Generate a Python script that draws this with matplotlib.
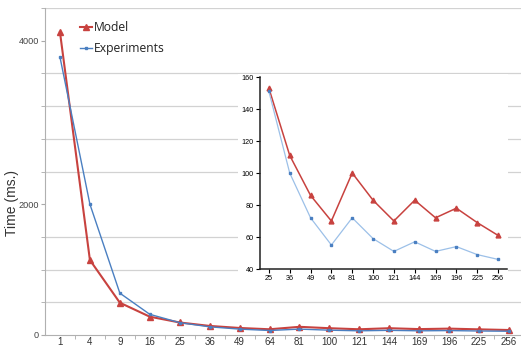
import matplotlib
matplotlib.use("Agg")
import matplotlib.pyplot as plt
from matplotlib.patches import Rectangle
import numpy as np

# block sizes (x categories)
sizes = [1, 4, 9, 16, 25, 36, 49, 64, 81, 100, 121, 144, 169, 196, 225, 256]
model_ms = [3705, 917, 395, 224, 153, 111, 86, 70, 100, 83, 70, 83, 72, 78, 69, 61]
exp_ms = [3400, 1600, 512, 253, 151, 100, 72, 55, 72, 59, 51, 57, 51, 54, 49, 46]

# the picture labels its y axis oddly: "2000" and "4000" sit on these lines
ytick_pos = [0, 1600, 3600]
ytick_txt = ["0", "2000", "4000"]

inset_from = 4  # zoomed view starts at 25

red = "#c8423f"
blue = "#4a7fc1"
light_blue = "#9cc0e8"
grid_c = "#d2d2d2"

plt.rcParams["font.family"] = ["Liberation Sans", "DejaVu Sans"]

fig = plt.figure(figsize=(5.21, 3.48), dpi=100)

# --- main chart ---
ax = fig.add_axes([45 / 521, 1 - 335 / 348, 479 / 521, 327 / 348])
xs = np.arange(len(sizes))
ax.plot(xs, model_ms, color=red, lw=1.5, marker="^", ms=4.5, label="Model", zorder=3)
ax.plot(xs, exp_ms, color=blue, lw=1.0, marker="s", ms=1.8, label="Experiments", zorder=4)

ax.set_xlim(-0.5, len(sizes) - 0.5)
ax.set_ylim(0, 4000)
ax.set_xticks(xs)
ax.set_xticklabels([str(s) for s in sizes], fontsize=7, color="#333333")
ax.set_xticks(xs[:-1] + 0.5, minor=True)
ax.set_yticks(ytick_pos)
ax.set_yticklabels(ytick_txt, fontsize=6.6, color="#444444")
ax.set_yticks(np.arange(0, 4001, 400), minor=True)
ax.tick_params(axis="x", which="major", length=0, pad=1.5)
ax.tick_params(axis="x", which="minor", length=3, color="#aaaaaa", direction="out")
ax.tick_params(axis="y", which="both", length=3, color="#aaaaaa", direction="out", pad=1.5)
ax.grid(True, which="minor", axis="y", color=grid_c, lw=0.9)
ax.set_axisbelow(True)
for side in ["top", "right"]:
    ax.spines[side].set_visible(False)
for side in ["left", "bottom"]:
    ax.spines[side].set_color("#b0b0b0")
ax.set_ylabel("Time (ms.)", fontsize=10, color="#333333")
ax.yaxis.set_label_coords(-0.054, 0.404)

leg = ax.legend(loc="upper left", bbox_to_anchor=(0.055, 0.985), frameon=False,
                prop={"family": "Open Sans", "size": 8.7}, handlelength=1.0,
                handletextpad=0.2, labelspacing=0.65, borderaxespad=0.3)
for t in leg.get_texts():
    t.set_color("#222222")

# white backdrop behind the zoomed view
fig.patches.append(Rectangle((238 / 521, 1 - 290 / 348), 270 / 521, 216 / 348,
                             transform=fig.transFigure, facecolor="white",
                             edgecolor="none", zorder=0.5))

# --- zoomed view ---
ins = fig.add_axes([259.5 / 521, 1 - 269 / 348, 247.5 / 521, 192 / 348], zorder=1)
ix = np.arange(len(sizes) - inset_from)
ins.plot(ix, model_ms[inset_from:], color=red, lw=1.1, marker="^", ms=3.5)
ins.plot(ix, exp_ms[inset_from:], color=light_blue, lw=0.9, marker="s", ms=1.6,
         mfc=blue, mec=blue)
ins.set_xlim(-0.45, len(ix) - 0.57)
ins.set_ylim(40, 160)
ins.set_xticks(ix)
ins.set_xticklabels([str(s) for s in sizes[inset_from:]], fontsize=5.2)
ins.set_yticks(np.arange(40, 161, 20))
ins.tick_params(axis="y", labelsize=5.2, length=3, width=0.8, pad=1)
ins.tick_params(axis="x", length=3, width=0.8, pad=1.5)
for side in ["top", "right"]:
    ins.spines[side].set_visible(False)
for side in ["left", "bottom"]:
    ins.spines[side].set_linewidth(1.1)
    ins.spines[side].set_color("#222222")

fig.savefig("out.png", dpi=100)
